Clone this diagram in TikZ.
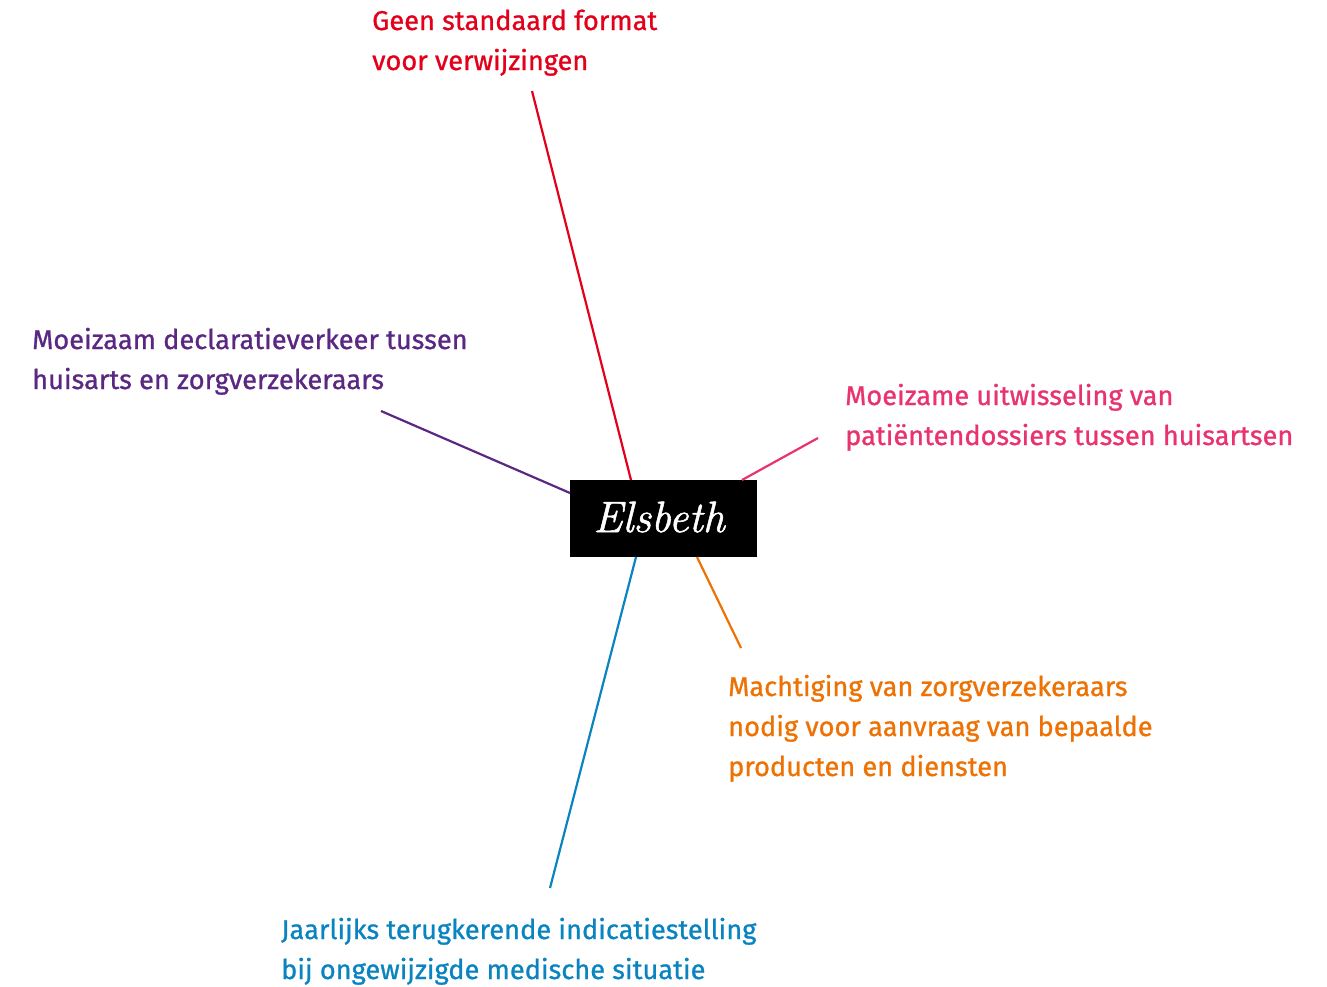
\documentclass[tikz,border=0pt]{standalone}
\usepackage{fontspec}
\setmainfont[FakeBold=0.9]{Fira Sans}
\newfontfamily\namefont[FakeBold=1.2]{Latin Modern Roman}
\definecolor{cred}{HTML}{E2001A}
\definecolor{cpurple}{HTML}{5A2782}
\definecolor{cpink}{HTML}{E8336E}
\definecolor{corange}{HTML}{EE7203}
\definecolor{cblue}{HTML}{0A84C1}
\begin{document}
\begin{tikzpicture}[x=1pt,y=-1pt,
  lbl/.style={anchor=base west,inner sep=0pt,align=left,font=\fontsize{27.2}{40}\selectfont},
  conn/.style={line width=2.2pt}]
\useasboundingbox (0,0) rectangle (1327,986);
\node[fill=black,minimum width=187pt,minimum height=77pt,inner sep=0pt] (box) at (663.5,518.5) {};
\node[text=white,inner sep=0pt,font=\namefont\itshape\fontsize{44}{44}\selectfont] (name) at (659,517) {Elsbeth};
\node[lbl,text=cred] (red) at (372,70) {Geen standaard format\\voor verwijzingen};
\node[lbl,text=cpurple] (purple) at (32,389) {Moeizaam declaratieverkeer tussen\\huisarts en zorgverzekeraars};
\node[lbl,text=cpink] (pink) at (845,445) {Moeizame uitwisseling van\\patiëntendossiers tussen huisartsen};
\node[lbl,text=corange] (orange) at (728,776) {Machtiging van zorgverzekeraars\\nodig voor aanvraag van bepaalde\\producten en diensten};
\node[lbl,text=cblue] (blue) at (281,979) {Jaarlijks terugkerende indicatiestelling\\bij ongewijzigde medische situatie};
\coordinate (rA) at (532,91); \coordinate (rB) at (631,480);
\coordinate (pA) at (381,411); \coordinate (pB) at (570,493);
\coordinate (kA) at (818,438); \coordinate (kB) at (742,480);
\coordinate (oA) at (741,648); \coordinate (oB) at (697,557);
\coordinate (bA) at (550,888); \coordinate (bB) at (636,557);
\draw[conn,cred] (rA) -- (rB);
\draw[conn,cpurple] (pA) -- (pB);
\draw[conn,cpink] (kA) -- (kB);
\draw[conn,corange] (oA) -- (oB);
\draw[conn,cblue] (bA) -- (bB);
\end{tikzpicture}
\end{document}
